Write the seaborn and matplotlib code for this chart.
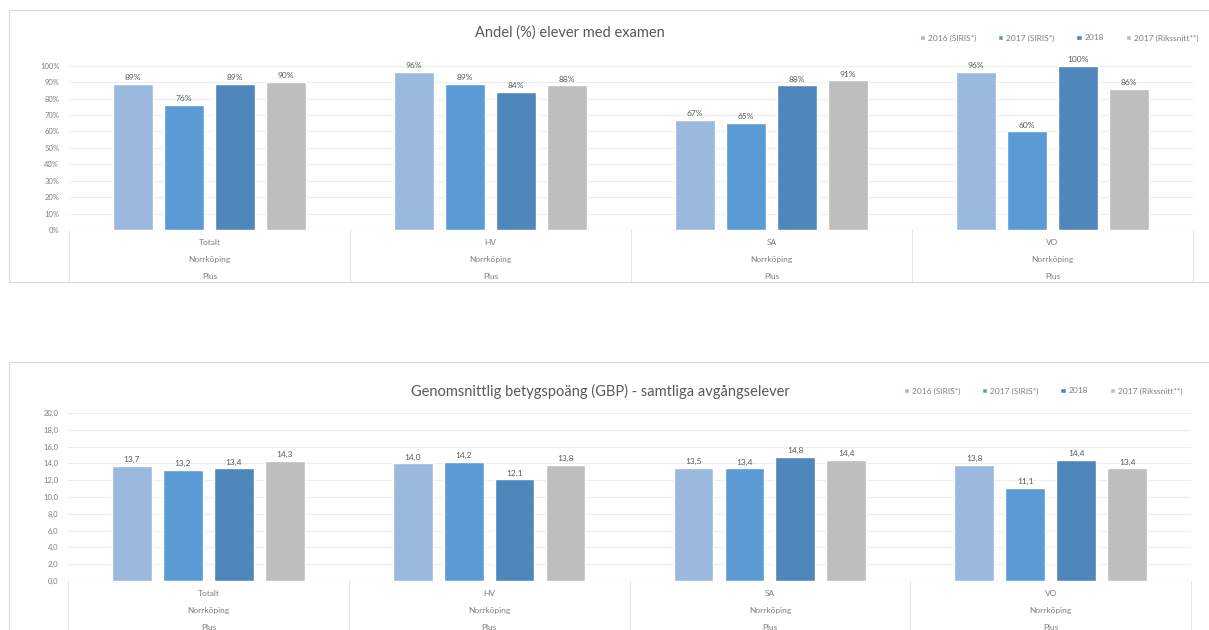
import numpy as np
import pandas as pd
import matplotlib
matplotlib.use("Agg")
import matplotlib.pyplot as plt
import seaborn as sns
from matplotlib.patches import Rectangle
from matplotlib.transforms import blended_transform_factory

# === Data ===
kategorier = ["Totalt", "HV", "SA", "VO"]
ort = "Norrköping"
grupp = "Plus"
serier = ["2016 (SIRIS*)", "2017 (SIRIS*)", "2018", "2017 (Rikssnitt**)"]
farger = ["#9BB9DF", "#5B9BD5", "#4F86BC", "#BEBEBE"]

examen_2016 = [89, 96, 67, 96]
examen_2017 = [76, 89, 65, 60]
examen_2018 = [89, 84, 88, 100]
examen_riket = [90, 88, 91, 86]

gbp_2016 = [13.7, 14.0, 13.5, 13.8]
gbp_2017 = [13.2, 14.2, 13.4, 11.1]
gbp_2018 = [13.4, 12.1, 14.8, 14.4]
gbp_riket = [14.3, 13.8, 14.4, 13.4]

W, H = 1209, 630
TEXT = "#595959"
LIGHT = "#7F7F7F"
LINE = "#D9D9D9"


def long_df(series_values):
    rows = []
    for serie, vals in zip(serier, series_values):
        for kat, v in zip(kategorier, vals):
            rows.append({"kategori": kat, "serie": serie, "varde": v})
    return pd.DataFrame(rows)


def komma(v):
    return f"{v:.1f}".replace(".", ",")


def rita(fig, ax, df, ymax, ystep, tick_fmt, label_fmt, titel, titel_xy, legend_xy, div_len):
    sns.barplot(data=df, x="kategori", y="varde", hue="serie", order=kategorier,
                hue_order=serier, palette=farger, saturation=1, width=0.726, gap=0.22,
                errorbar=None, ax=ax)

    for cont in ax.containers:
        ax.bar_label(cont, labels=[label_fmt(v) for v in cont.datavalues],
                     padding=2, fontsize=6, color=TEXT)

    ax.set_xlim(-0.5, len(kategorier) - 0.5)
    ax.set_ylim(0, ymax)
    ticks = np.arange(0, ymax + ystep / 2, ystep)
    ax.set_yticks(ticks)
    ax.set_yticklabels([tick_fmt(t) for t in ticks])
    ax.tick_params(axis="y", length=0, pad=7, labelsize=5.5, labelcolor=LIGHT)
    ax.tick_params(axis="x", length=0, labelbottom=False)
    ax.set_xlabel("")
    ax.set_ylabel("")
    ax.grid(axis="y", color="#EDEDED", lw=0.8)
    ax.grid(axis="x", visible=False)
    ax.set_axisbelow(True)
    sns.despine(ax=ax, left=True, bottom=True)
    ax.axhline(0, color=LINE, lw=0.8)

    # multi-level category axis: labels and separators
    trans = blended_transform_factory(ax.transData, ax.transAxes)
    for i in range(len(kategorier) + 1):
        ax.plot([i - 0.5, i - 0.5], [0, -div_len], transform=trans, color="#E6E6E6",
                lw=0.8, clip_on=False)
    for i, kat in enumerate(kategorier):
        for rad, txt in enumerate([kat, ort, grupp]):
            ax.annotate(txt, xy=(i, 0), xycoords=("data", "axes fraction"),
                        xytext=(0, -9 - 12.4 * rad), textcoords="offset points",
                        ha="center", va="center", fontsize=6, color=LIGHT)

    fig.text(titel_xy[0], titel_xy[1], titel, ha="center", va="center",
             fontsize=10.5, color=TEXT)

    handles, labels = ax.get_legend_handles_labels()
    if ax.get_legend() is not None:
        ax.get_legend().remove()
    fig.legend(handles, labels, loc="center right", bbox_to_anchor=legend_xy,
               bbox_transform=fig.transFigure, ncol=4, frameon=False, fontsize=6,
               handlelength=0.65, handleheight=0.65, handletextpad=0.35,
               columnspacing=2.6, borderpad=0, labelcolor=LIGHT)


sns.set_style("white")
plt.rcParams["font.family"] = ["Lato", "DejaVu Sans"]

fig = plt.figure(figsize=(W / 100, H / 100), dpi=100)

# chart frames
fig.add_artist(Rectangle((9 / W, 1 - 282 / H), 1210 / W, 272 / H, transform=fig.transFigure,
                         fill=False, edgecolor=LINE, lw=0.8))
fig.add_artist(Rectangle((9 / W, -0.05), 1210 / W, 1 - 362 / H + 0.05, transform=fig.transFigure,
                         fill=False, edgecolor=LINE, lw=0.8))

ax1 = fig.add_axes([69 / W, 1 - 230 / H, 1124 / W, 164.3 / H])
rita(fig, ax1, long_df([examen_2016, examen_2017, examen_2018, examen_riket]),
     100, 10, lambda t: f"{t:.0f}%", lambda v: f"{v:.0f}%",
     "Andel (%) elever med examen", (570 / W, 1 - 33 / H), (1203 / W, 1 - 38 / H),
     52 / 164.3)

ax2 = fig.add_axes([68 / W, 1 - 581 / H, 1123 / W, 168 / H])
rita(fig, ax2, long_df([gbp_2016, gbp_2017, gbp_2018, gbp_riket]),
     20, 2, komma, komma,
     "Genomsnittlig betygspoäng (GBP) - samtliga avgångselever", (600 / W, 1 - 391 / H),
     (1187 / W, 1 - 391 / H), 0.32)

fig.savefig("out.png", dpi=100)
